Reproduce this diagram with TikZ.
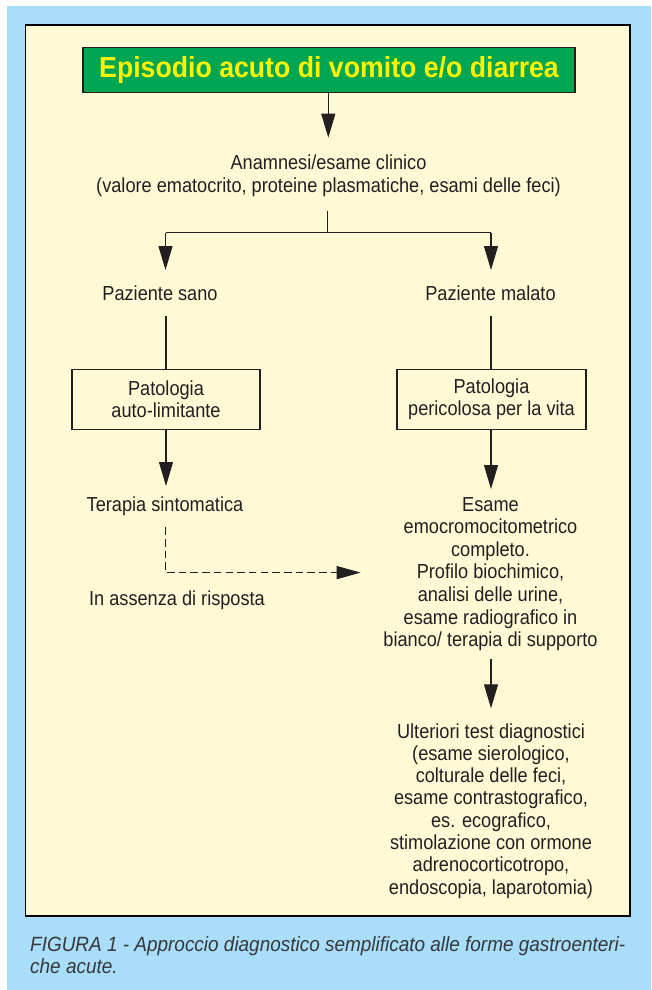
\documentclass[tikz,border=0pt]{standalone}
\usepackage{fontspec}
\setmainfont{Liberation Sans}[FakeStretch=0.92]
\newfontfamily\bodyfont{Liberation Sans}[FakeStretch=0.895]
\usetikzlibrary{arrows.meta}
\definecolor{bgblue}{RGB}{168,222,250}
\definecolor{cream}{RGB}{255,250,214}
\definecolor{tgreen}{RGB}{0,166,81}
\definecolor{tyellow}{RGB}{255,242,0}
\definecolor{ink}{RGB}{35,31,32}
\definecolor{capgray}{RGB}{55,55,58}
\begin{document}
\begin{tikzpicture}[x=1pt,y=-1pt,
  txt/.style={font=\bodyfont\fontsize{20.3}{22.5}\selectfont, text=ink, inner sep=0pt, align=center, anchor=base},
  titlebox/.style={draw=ink, line width=1.3pt, fill=tgreen, text=tyellow, inner sep=0pt,
     minimum width=492pt, minimum height=44.6pt, font=\bfseries\fontsize{29}{31}\selectfont},
  pbox/.style={draw=ink, line width=1.1pt, fill=cream, text=ink, inner sep=0pt, align=center,
     minimum height=59.7pt, font=\bodyfont\fontsize{20.3}{22}\selectfont},
  ln/.style={draw=ink, line width=1.1pt},
  arr/.style={ln, -{Triangle[length=24pt,width=14pt]}},
  dsh/.style={ln, dash pattern=on 7.5pt off 4.2pt, -{Triangle[length=24pt,width=13pt]}},
  captxt/.style={font=\itshape\fontsize{20.6}{22}\selectfont, text=capgray, inner sep=0pt, align=left, anchor=base west}
]
\useasboundingbox (0,0) rectangle (651,990);
\fill[white] (0,0) rectangle (651,990);
\fill[bgblue] (7,6) rectangle (651,990);
\draw[fill=cream, line width=1.3pt, draw=black] (25.7,25) rectangle (630,916);

% title
\node[titlebox] (title) at (329,70) {Episodio acuto di vomito e/o diarrea};
\coordinate (tipA) at (328.3,137.7);
\draw[arr] (title.south -| tipA) -- (tipA);

% multi-line nodes are anchored at the baseline of their last line
\node[txt] (anam) at (328.5,192) {Anamnesi/esame clinico\\(valore ematocrito, proteine plasmatiche, esami delle feci)};

% split
\coordinate (anamB) at (327.7,210.7);
\coordinate (split) at (327.7,232.7);
\coordinate (sL) at (165.5,232.7);
\coordinate (sR) at (491,232.7);
\coordinate (tipL) at (165.5,270);
\coordinate (tipR) at (491,270);
\draw[ln] (anamB) -- (split);
\draw[ln] (sL) -- (sR);
\draw[arr] (sL) -- (tipL);
\draw[arr] (sR) -- (tipR);

\node[txt] (pzL) at (160,300.7) {Paziente sano};
\node[txt] (pzR) at (490.5,300.7) {Paziente malato};

% boxes
\node[pbox, minimum width=188pt] (boxL) at (166,399.2) {Patologia\\auto-limitante};
\node[pbox, minimum width=189pt] (boxR) at (491.5,399.2) {Patologia\\pericolosa per la vita};
\coordinate (pzLB) at (166,316);
\coordinate (pzRB) at (491,316);
\draw[ln] (pzLB) -- (pzLB |- boxL.north);
\draw[ln] (pzRB) -- (pzRB |- boxR.north);

\coordinate (tipTL) at (166,486);
\coordinate (tipER) at (491,489);
\draw[arr] (boxL.south -| tipTL) -- (tipTL);
\draw[arr] (boxR.south -| tipER) -- (tipER);

\node[txt] (terapia) at (165,511) {Terapia sintomatica};
\node[txt, font=\bodyfont\fontsize{20.3}{22.6}\selectfont] (esame) at (490.5,646.7) {Esame\\emocromocitometrico\\completo.\\Profilo biochimico,\\analisi delle urine,\\esame radiografico in\\bianco/ terapia di supporto};

% dashed
\coordinate (dashS) at (165.5,527.3);
\coordinate (dashC) at (165.5,572.6);
\coordinate (dashE) at (360.7,572.6);
\draw[dsh] (dashS) -- (dashC) -- (dashE);

\node[txt] (assenza) at (177,605.7) {In assenza di risposta};

\coordinate (esB) at (491,659);
\coordinate (tipU) at (491,708.3);
\draw[arr] (esB) -- (tipU);

\node[txt, font=\bodyfont\fontsize{20.3}{22.33}\selectfont] (ulteriori) at (491,894.3) {Ulteriori test diagnostici\\(esame sierologico,\\colturale delle feci,\\esame contrastografico,\\es. ecografico,\\stimolazione con ormone\\adrenocorticotropo,\\endoscopia, laparotomia)};

\node[captxt] (caption) at (30,973.5) {FIGURA 1 - Approccio diagnostico semplificato alle forme gastroenteri-\\che acute.};
\end{tikzpicture}
\end{document}
